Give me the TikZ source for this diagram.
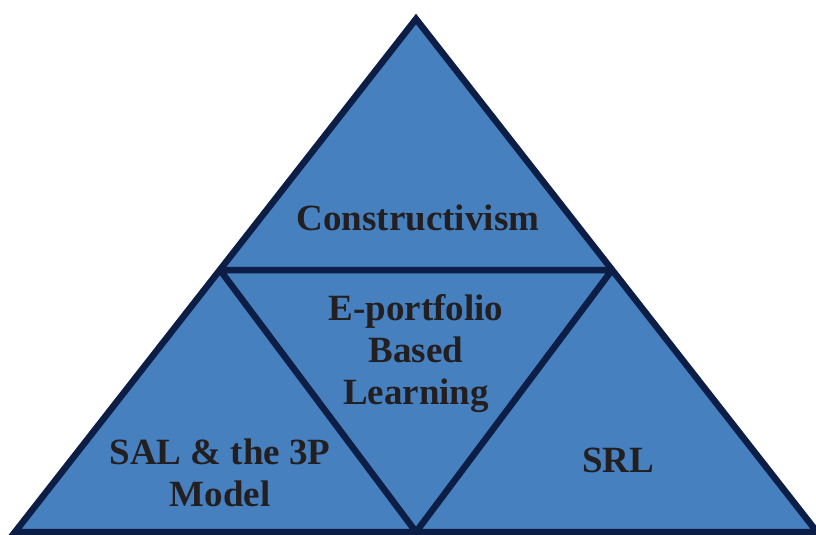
\documentclass[tikz,border=0pt]{standalone}
\usepackage{fontspec}
\setmainfont{Liberation Serif}
\definecolor{fillblue}{HTML}{4680BF}
\definecolor{edgenavy}{HTML}{0C1E45}
\definecolor{ink}{HTML}{231F20}
\begin{document}
\begin{tikzpicture}[x=1pt,y=-1pt,
  lbl/.style={text=ink, font=\fontsize{37}{42}\selectfont\bfseries, align=center, inner sep=0pt},
  tri/.style={draw=edgenavy, line width=6.5pt, line join=miter}]
\useasboundingbox (0,0) rectangle (816,535);
\coordinate (A) at (416,19);
\coordinate (B) at (15,532);
\coordinate (C) at (817,532);
\coordinate (L) at (220,270);
\coordinate (R) at (612,270);
\coordinate (M) at (416,532);
\fill[fillblue] (A) -- (B) -- (C) -- cycle;
\begin{scope}
  \clip (A) -- (B) -- (C) -- cycle;
  \draw[tri] (L) -- (R) -- (M) -- cycle;
\end{scope}
\draw[tri] (A) -- (B) -- (C) -- cycle;
\node[lbl] (top) at (418,218) {Constructivism};
\node[lbl] (mid) at (416,354) {E-portfolio\\Based\\Learning};
\node[lbl] (left) at (220,473) {SAL \& the 3P\\Model};
\node[lbl] (right) at (618,460) {SRL};
\end{tikzpicture}
\end{document}
